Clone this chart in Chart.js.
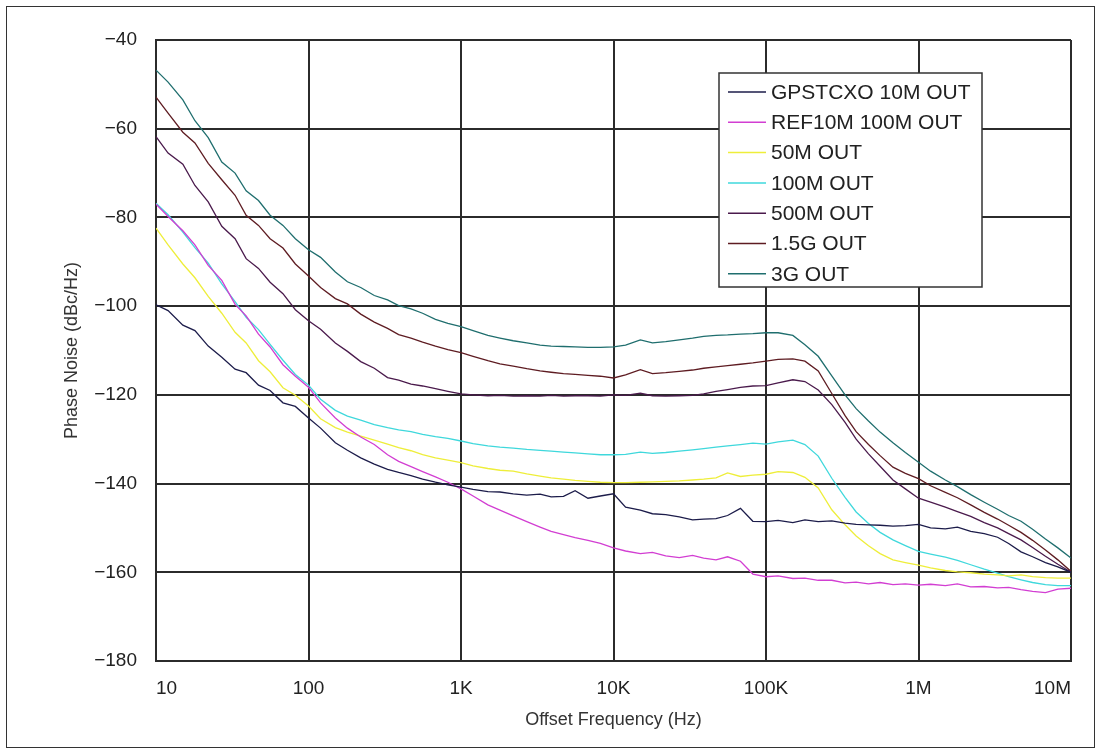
<!DOCTYPE html>
<html>
<head>
<meta charset="utf-8">
<script src="https://cdn.jsdelivr.net/npm/chart.js@4.4.0/dist/chart.umd.min.js"></script>
<style>
html,body{margin:0;padding:0;background:#fff;}
#wrap{position:relative;width:1101px;height:754px;overflow:hidden;}
#frame{position:absolute;left:6px;top:6px;width:1089px;height:742px;border:1px solid #333;box-sizing:border-box;pointer-events:none;}
canvas{position:absolute;left:0;top:0;}
</style>
</head>
<body>
<div id="wrap"><canvas id="c" width="1101" height="754"></canvas><div id="frame"></div></div>
<script>
// Offset frequencies (Hz), shared by all series
const freqs = [
  10,12,15,18,22,27,33,39,47,56,68,82,
  100,120,150,180,220,270,330,390,470,560,680,820,
  1e3,1.2e3,1.5e3,1.8e3,2.2e3,2.7e3,3.3e3,3.9e3,4.7e3,5.6e3,6.8e3,8.2e3,
  1e4,1.2e4,1.5e4,1.8e4,2.2e4,2.7e4,3.3e4,3.9e4,4.7e4,5.6e4,6.8e4,8.2e4,
  1e5,1.2e5,1.5e5,1.8e5,2.2e5,2.7e5,3.3e5,3.9e5,4.7e5,5.6e5,6.8e5,8.2e5,
  1e6,1.2e6,1.5e6,1.8e6,2.2e6,2.7e6,3.3e6,3.9e6,4.7e6,5.6e6,6.8e6,8.2e6,
  1e7
];

const seriesNames = ['GPSTCXO 10M OUT','REF10M 100M OUT','50M OUT','100M OUT','500M OUT','1.5G OUT','3G OUT'];

const gpstcxo10M = [
  -99.7,-101.0,-104.3,-105.5,-109.0,-111.5,-114.2,-115.0,-117.8,-119.0,-121.8,-122.6,
  -125.2,-127.5,-130.8,-132.5,-134.2,-135.6,-136.8,-137.5,-138.2,-139.0,-139.7,-140.3,
  -140.8,-141.3,-141.8,-141.9,-142.3,-142.6,-142.4,-143.0,-142.9,-141.6,-143.3,-142.8,
  -142.3,-145.3,-146.0,-146.8,-147.0,-147.5,-148.2,-148.0,-147.9,-147.2,-145.6,-148.5,
  -148.6,-148.3,-148.8,-148.2,-148.6,-148.4,-148.9,-149.2,-149.3,-149.4,-149.6,-149.5,
  -149.2,-150.0,-150.2,-149.8,-150.8,-151.3,-152.1,-153.5,-155.4,-156.5,-157.8,-158.8,
  -160.0
];
const ref10M100M = [
  -77.0,-79.8,-83.0,-86.2,-90.8,-94.2,-99.6,-102.2,-106.3,-109.2,-113.2,-115.8,
  -118.3,-121.8,-125.2,-127.5,-129.5,-131.2,-133.5,-135.0,-136.2,-137.3,-138.5,-139.7,
  -141.2,-142.8,-144.8,-146.0,-147.3,-148.6,-149.8,-150.8,-151.5,-152.2,-152.8,-153.5,
  -154.5,-155.2,-155.8,-155.5,-156.3,-156.7,-156.2,-156.8,-157.2,-156.5,-157.5,-160.4,
  -161.0,-160.8,-161.4,-161.3,-161.8,-161.8,-162.4,-162.2,-162.6,-162.3,-162.8,-162.6,
  -162.9,-162.7,-163.0,-162.6,-163.3,-163.2,-163.5,-163.4,-163.9,-164.3,-164.6,-163.8,
  -163.6
];
const out50M = [
  -82.4,-86.2,-90.5,-93.6,-97.8,-101.6,-105.9,-108.3,-112.3,-114.8,-118.4,-120.1,
  -122.5,-125.4,-127.4,-128.4,-129.3,-130.2,-131.1,-131.9,-132.6,-133.5,-134.2,-134.7,
  -135.3,-136.0,-136.6,-137.0,-137.2,-137.8,-138.3,-138.7,-139.0,-139.3,-139.5,-139.7,
  -139.8,-139.8,-139.7,-139.6,-139.5,-139.4,-139.2,-139.0,-138.7,-137.6,-138.4,-138.1,
  -137.9,-137.3,-137.5,-138.6,-141.0,-145.9,-149.3,-151.8,-154.0,-155.8,-157.2,-157.8,
  -158.4,-159.0,-159.6,-159.9,-160.1,-160.4,-160.6,-160.8,-160.6,-161.0,-161.2,-161.3,
  -161.3
];
const out100M = [
  -76.8,-79.4,-83.3,-86.8,-90.3,-95.0,-99.0,-102.5,-105.3,-108.6,-112.2,-115.4,
  -117.8,-121.0,-123.5,-124.8,-125.7,-126.7,-127.4,-127.9,-128.3,-128.9,-129.4,-129.8,
  -130.4,-131.0,-131.5,-131.8,-132.0,-132.3,-132.5,-132.7,-132.9,-133.1,-133.3,-133.5,
  -133.5,-133.4,-132.9,-133.2,-133.0,-132.7,-132.4,-132.1,-131.8,-131.5,-131.2,-130.9,
  -131.1,-130.6,-130.2,-131.2,-133.8,-138.8,-143.1,-146.4,-149.0,-151.0,-152.7,-154.0,
  -155.3,-155.9,-156.6,-157.3,-158.3,-159.3,-160.2,-161.0,-161.7,-162.3,-162.8,-163.0,
  -163.0
];
const out500M = [
  -61.8,-65.5,-68.0,-72.8,-76.5,-82.0,-84.8,-89.3,-91.5,-94.6,-97.2,-100.8,
  -103.3,-105.2,-108.3,-110.2,-112.5,-114.0,-116.1,-116.7,-117.6,-118.0,-118.6,-119.2,
  -119.8,-120.0,-120.2,-120.1,-120.3,-120.2,-120.3,-120.1,-120.3,-120.2,-120.2,-120.3,
  -120.0,-120.1,-119.6,-120.2,-120.3,-120.2,-120.1,-119.8,-119.2,-118.8,-118.3,-118.0,
  -117.9,-117.3,-116.6,-117.0,-118.9,-122.2,-126.2,-130.0,-133.3,-136.1,-139.2,-141.2,
  -143.3,-144.2,-145.3,-146.3,-147.4,-148.8,-150.0,-151.3,-152.7,-154.4,-156.4,-158.2,
  -160.0
];
const out1G5 = [
  -52.9,-56.5,-60.8,-63.2,-67.8,-71.5,-75.0,-79.5,-81.8,-84.8,-86.9,-90.5,
  -93.2,-95.8,-98.3,-99.5,-101.8,-103.6,-105.0,-106.4,-107.2,-108.1,-109.0,-109.8,
  -110.5,-111.3,-112.3,-113.0,-113.5,-114.1,-114.6,-114.9,-115.2,-115.4,-115.6,-115.8,
  -116.2,-115.5,-114.3,-115.2,-115.0,-114.7,-114.4,-114.0,-113.7,-113.4,-113.1,-112.8,
  -112.4,-112.0,-111.9,-112.4,-114.6,-119.7,-124.7,-128.3,-131.2,-133.7,-136.3,-137.7,
  -138.9,-140.5,-142.0,-143.2,-144.8,-146.5,-148.0,-149.4,-151.0,-152.8,-155.0,-157.2,
  -159.8
];
const out3G = [
  -46.8,-49.5,-53.5,-58.2,-62.0,-67.5,-70.0,-74.0,-76.2,-79.5,-81.8,-84.8,
  -87.3,-89.0,-92.3,-94.5,-95.8,-97.6,-98.6,-99.9,-100.6,-101.6,-103.0,-103.9,
  -104.6,-105.5,-106.6,-107.2,-107.8,-108.3,-108.8,-109.0,-109.1,-109.2,-109.3,-109.3,
  -109.2,-108.8,-107.6,-108.3,-108.0,-107.6,-107.2,-106.8,-106.6,-106.5,-106.3,-106.2,
  -106.0,-106.0,-106.6,-108.7,-111.3,-115.7,-120.0,-123.1,-125.9,-128.4,-130.8,-133.0,
  -135.2,-137.2,-139.2,-140.7,-142.5,-144.2,-145.8,-147.2,-148.5,-150.3,-152.5,-154.5,
  -156.8
];

const seriesValues = [gpstcxo10M, ref10M100M, out50M, out100M, out500M, out1G5, out3G];
const seriesColors = ['#1c1c4a','#d23ed2','#eeee3a','#3fd8dc','#4a1a4c','#5e1c22','#1f6e6e'];

const xTickValues = [10,100,1e3,1e4,1e5,1e6,1e7];
const xTickLabels = ['10','100','1K','10K','100K','1M','10M'];
const yMin = -180, yMax = -40, yStep = 20;

const FONT = '"Liberation Sans", Arial, sans-serif';

const boxLegend = {
  id: 'boxLegend',
  afterDatasetsDraw(chart) {
    const ctx = chart.ctx;
    const x0 = 719, y0 = 73, w = 263, h = 214;
    ctx.save();
    ctx.fillStyle = '#fff';
    ctx.fillRect(x0, y0, w, h);
    ctx.strokeStyle = '#333';
    ctx.lineWidth = 1.5;
    ctx.strokeRect(x0, y0, w, h);
    ctx.font = '21px ' + FONT;
    ctx.textBaseline = 'middle';
    const target = 204;
    const mw = ctx.measureText(chart.data.datasets[0].label).width;
    const sx = Math.min(1, target / mw);
    chart.data.datasets.forEach((ds, i) => {
      const y = y0 + 19 + i * 30.3;
      ctx.strokeStyle = ds.borderColor;
      ctx.lineWidth = 1.5;
      ctx.beginPath(); ctx.moveTo(728, y); ctx.lineTo(766, y); ctx.stroke();
      ctx.save();
      ctx.translate(771, y);
      ctx.scale(sx, 1);
      ctx.fillStyle = '#222';
      ctx.fillText(ds.label, 0, 1);
      ctx.restore();
    });
    ctx.restore();
  }
};

const datasets = seriesNames.map((name, i) => ({
  label: name,
  data: freqs.map((f, j) => ({x: f, y: seriesValues[i][j]})),
  borderColor: seriesColors[i],
  backgroundColor: seriesColors[i],
  borderWidth: 1.3,
  pointRadius: 0,
  tension: 0,
  fill: false
}));

new Chart(document.getElementById('c'), {
  type: 'line',
  data: { datasets },
  options: {
    responsive: false,
    animation: false,
    devicePixelRatio: 1,
    layout: { padding: { left: 0, right: 30, top: 40, bottom: 0 } },
    plugins: { legend: { display: false }, tooltip: { enabled: false } },
    scales: {
      x: {
        type: 'logarithmic',
        min: 10, max: 1e7,
        afterBuildTicks: (s) => { s.ticks = xTickValues.map(v => ({value: v})); },
        afterFit: (s) => { s.height = 93; },
        grid: { color: '#2b2b2b', lineWidth: 2, drawTicks: false },
        border: { color: '#2b2b2b', width: 2 },
        ticks: {
          autoSkip: false, maxRotation: 0, align: 'inner', padding: 16,
          color: '#222', font: { family: FONT, size: 19 },
          callback: (v, i) => xTickLabels[i]
        },
        title: {
          display: true, text: 'Offset Frequency (Hz)', color: '#333',
          font: { family: FONT, size: 18 }, padding: { top: 0, bottom: 23 }
        }
      },
      y: {
        type: 'linear',
        min: yMin, max: yMax,
        afterFit: (s) => { s.width = 156; },
        grid: { color: '#2b2b2b', lineWidth: 2, drawTicks: false },
        border: { color: '#2b2b2b', width: 2 },
        ticks: {
          stepSize: yStep, padding: 19, color: '#222',
          font: { family: FONT, size: 19 },
          callback: (v) => (v < 0 ? '\u2212' : '') + Math.abs(v)
        },
        title: {
          display: true, text: 'Phase Noise (dBc/Hz)', color: '#333',
          font: { family: FONT, size: 18 }, padding: { top: 61, bottom: 0 }
        }
      }
    }
  },
  plugins: [boxLegend]
});
</script>
</body>
</html>
